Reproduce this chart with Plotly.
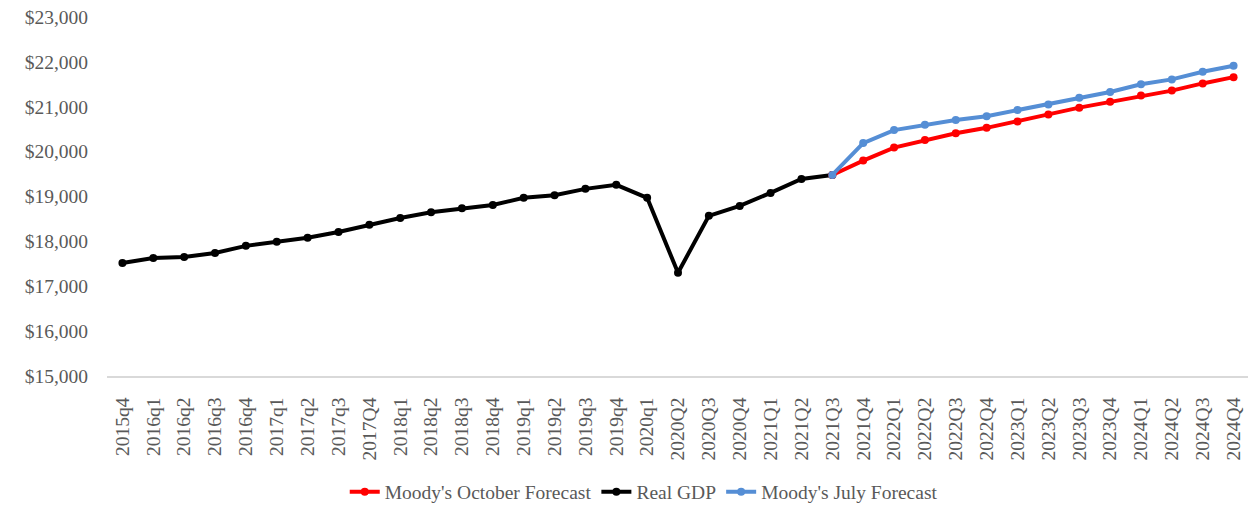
import plotly.graph_objects as go

quarters = ["2015q4", "2016q1", "2016q2", "2016q3", "2016q4", "2017q1", "2017q2", "2017q3",
            "2017Q4", "2018q1", "2018q2", "2018q3", "2018q4", "2019q1", "2019q2", "2019q3",
            "2019q4", "2020q1", "2020Q2", "2020Q3", "2020Q4", "2021Q1", "2021Q2", "2021Q3",
            "2021Q4", "2022Q1", "2022Q2", "2022Q3", "2022Q4", "2023Q1", "2023Q2", "2023Q3",
            "2023Q4", "2024Q1", "2024Q2", "2024Q3", "2024Q4"]

real_gdp = [17520, 17630, 17650, 17740, 17900, 17990, 18080, 18210,
            18370, 18520, 18650, 18740, 18810, 18970, 19030, 19170,
            19260, 18970, 17300, 18570, 18790, 19080, 19390, 19480]

forecast_quarters = quarters[23:]
october_forecast = [19480, 19800, 20090, 20260, 20410, 20530, 20670, 20830, 20980,
                    21110, 21250, 21360, 21520, 21660]
july_forecast = [19480, 20190, 20480, 20600, 20705, 20790, 20930, 21050, 21200,
                 21330, 21500, 21610, 21780, 21915]

font_family = "Liberation Serif, Times New Roman, serif"
grey = "#595959"

fig = go.Figure()
fig.add_trace(go.Scatter(x=quarters[:len(real_gdp)], y=real_gdp, name="Real GDP",
                         mode="lines+markers", line=dict(color="#000000", width=4),
                         marker=dict(size=8, color="#000000"), legendrank=2))
fig.add_trace(go.Scatter(x=forecast_quarters, y=october_forecast, name="Moody's October Forecast",
                         mode="lines+markers", line=dict(color="#FF0000", width=4),
                         marker=dict(size=8, color="#FF0000"), legendrank=1))
fig.add_trace(go.Scatter(x=forecast_quarters, y=july_forecast, name="Moody's July Forecast",
                         mode="lines+markers", line=dict(color="#558ED5", width=4),
                         marker=dict(size=8, color="#558ED5"), legendrank=3))

fig.update_layout(
    width=1248, height=499,
    margin=dict(l=99, r=7, t=9, b=131),
    paper_bgcolor="white", plot_bgcolor="white",
    font=dict(family=font_family, size=19.5, color=grey),
    showlegend=True,
    legend=dict(orientation="h", x=0.47, xanchor="center",
                yref="container", y=0.03, yanchor="middle",
                font=dict(family=font_family, size=19.5, color=grey), itemwidth=30,
                traceorder="normal"),
    xaxis=dict(type="category", categoryorder="array", categoryarray=quarters,
               range=[-0.5, len(quarters) - 0.5], tickangle=-90, automargin=False,
               showline=True, linecolor="#d9d9d9", linewidth=1.5, showgrid=False,
               ticks="", ticklabelstandoff=12,
               tickfont=dict(family=font_family, size=19.5, color=grey)),
    yaxis=dict(range=[15000, 23000], dtick=1000, tickprefix="$", tickformat=",",
               showgrid=False, zeroline=False, showline=False, ticks="", automargin=False,
               ticklabelstandoff=18, ticklabeloverflow="allow",
               tickfont=dict(family=font_family, size=19.5, color=grey)),
)

fig.write_html("out.html")
